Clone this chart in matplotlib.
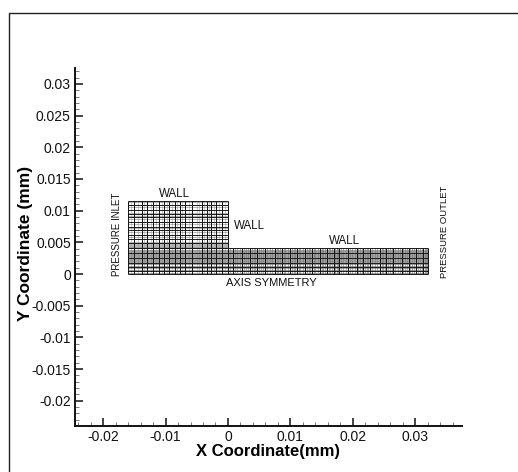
import matplotlib
matplotlib.use("Agg")
import matplotlib.pyplot as plt
from matplotlib.lines import Line2D

plt.rcParams['font.family'] = ['Liberation Sans', 'DejaVu Sans']

x_ticks = [-0.02, -0.01, 0, 0.01, 0.02, 0.03]
x_tick_labels = ['-0.02', '-0.01', '0', '0.01', '0.02', '0.03']
y_ticks = [0.03, 0.025, 0.02, 0.015, 0.01, 0.005, 0, -0.005, -0.01, -0.015, -0.02]
y_tick_labels = ['0.03', '0.025', '0.02', '0.015', '0.01', '0.005', '0', '-0.005', '-0.01', '-0.015', '-0.02']

inlet_x_strong = [-0.01596, -0.01505, -0.01382, -0.01292, -0.01196, -0.0110, -0.0102, -0.0094, -0.00849,
                  -0.00769, -0.00689, -0.00576, -0.00416, -0.00336, -0.00264, -0.00192, -0.00096, 0.0]
inlet_x_faint = [-0.0155, -0.0144, -0.0134, -0.0124, -0.0115, -0.0106, -0.0098, -0.0089, -0.0081, -0.0073,
                 -0.0062, -0.0050, -0.0046, -0.0038, -0.0030, -0.0022, -0.0014, -0.0005]
channel_x_strong = [0.0, 0.0008, 0.0022, 0.0035, 0.0047, 0.0059, 0.0075, 0.0086, 0.0099, 0.011, 0.0123, 0.0134,
                    0.0147, 0.0158, 0.017, 0.0178, 0.0192, 0.0206, 0.0217, 0.0227, 0.0243, 0.0253, 0.0265,
                    0.0278, 0.029, 0.0301, 0.0313, 0.0321]
channel_x_faint = [0.0004, 0.0011, 0.0015, 0.0019, 0.0026, 0.0029, 0.0032, 0.0038, 0.0041, 0.0044, 0.0050, 0.0053,
                   0.0056, 0.0063, 0.0067, 0.0071, 0.0078, 0.0080, 0.0083, 0.0089, 0.0092, 0.0096, 0.0102, 0.0105,
                   0.0108, 0.0113, 0.0116, 0.0120, 0.0126, 0.0129, 0.0132, 0.0137, 0.0140, 0.0144, 0.0150, 0.0152,
                   0.0155, 0.0161, 0.0164, 0.0167, 0.0172, 0.0174, 0.0176, 0.0181, 0.0185, 0.0189, 0.0195, 0.0199,
                   0.0203, 0.0209, 0.0211, 0.0214, 0.0219, 0.0222, 0.0225, 0.0231, 0.0235, 0.0239, 0.0246, 0.0248,
                   0.0251, 0.0256, 0.0259, 0.0262, 0.0268, 0.0272, 0.0275, 0.0281, 0.0284, 0.0287, 0.0292, 0.0295,
                   0.0298, 0.0304, 0.0307, 0.0310, 0.0315, 0.0317, 0.0319]
inlet_y_strong = [0.01157, 0.0109, 0.0101, 0.00942, 0.00895, 0.00825, 0.00747, 0.00695, 0.00616, 0.00547, 0.00484, 0.00405]
inlet_y_faint = [0.0113, 0.0105, 0.0097, 0.0092, 0.0086, 0.0079, 0.0072, 0.0066, 0.0058, 0.0051,
                 0.0047, 0.0045, 0.0044, 0.0043, 0.0042]
channel_y_strong = [0.00405, 0.00327, 0.00248, 0.00169, 0.00106, 0.00052, 0.0]
channel_y_faint = [0.00385, 0.00365, 0.00345, 0.00315, 0.00305, 0.00285, 0.00265, 0.00235, 0.00225, 0.00205, 0.00185,
                   0.0015, 0.0013, 0.0009, 0.0007, 0.0004, 0.0002]
y_channel_top = 0.00405
y_inlet_top = 0.01157
x_inlet_left = -0.01596
x_outlet = 0.0321

W, H = 518, 472
fig = plt.figure(figsize=(W / 100, H / 100), dpi=100)
fig.add_artist(Line2D([8.5 / W, 8.5 / W, 1], [0, 1 - 12.5 / H, 1 - 12.5 / H], transform=fig.transFigure,
                      color='#222222', lw=1.0))
L, R, T, B = 75, 461.5, 68, 425.5
ax = fig.add_axes([L / W, 1 - B / H, (R - L) / W, (B - T) / H])
ax.set_xlim(-0.0245, 0.0374)
ax.set_ylim(-0.0239, 0.0325)

ax.vlines(inlet_x_faint, 0, y_inlet_top, color='#b5b5b5', lw=0.5)
ax.vlines(channel_x_faint, 0, y_channel_top, color='#888888', lw=0.5)
ax.hlines(inlet_y_faint, x_inlet_left, 0, color='#999999', lw=0.5)
ax.hlines(channel_y_faint, x_inlet_left, x_outlet, color='#777777', lw=0.5)
ax.vlines(inlet_x_strong, 0, y_inlet_top, color='#111111', lw=0.7)
ax.vlines(channel_x_strong, 0, y_channel_top, color='#111111', lw=0.7)
ax.hlines(inlet_y_strong, x_inlet_left, 0, color='#1a1a1a', lw=0.7)
ax.hlines(channel_y_strong, x_inlet_left, x_outlet, color='#1a1a1a', lw=0.7)

for s in ['top', 'right']:
    ax.spines[s].set_visible(False)
for s in ['left', 'bottom']:
    ax.spines[s].set_linewidth(1.4)
    ax.spines[s].set_color('#111111')

ax.set_xticks(x_ticks, x_tick_labels)
ax.set_yticks(y_ticks, y_tick_labels)
ax.set_xticks([i / 1000 for i in range(-24, 38, 2) if i % 10 != 0], minor=True)
ax.set_yticks([i / 1000 for i in range(-23, 33) if i % 5 != 0], minor=True)
ax.tick_params(which='major', direction='in', length=6, width=1.1, labelsize=10, pad=3, colors='#111111')
ax.tick_params(which='minor', direction='in', length=3, width=0.7, color='#777777')

ax.set_xlabel('X Coordinate(mm)', fontsize=12, fontweight='bold', labelpad=0.5)
ax.set_ylabel('Y Coordinate (mm)', fontsize=12.5, fontweight='bold')
ax.yaxis.set_label_coords((33 - L) / (R - L), (B - 243) / (B - T))

ann = dict(color='#111111', ha='center', va='center')
ax.text(-0.0085, 0.0127, 'WALL', fontsize=8.3, **ann)
ax.text(0.0035, 0.0075, 'WALL', fontsize=8.3, **ann)
ax.text(0.0187, 0.0052, 'WALL', fontsize=8.3, **ann)
ax.text(0.0069, -0.00135, 'AXIS SYMMETRY', fontsize=8, **ann)
ax.text(-0.0178, 0.0063, 'PRESSURE INLET', fontsize=7, rotation=90, **ann)
ax.text(0.0346, 0.0066, 'PRESSURE OUTLET', fontsize=6.8, rotation=90, **ann)

fig.savefig('out.png', dpi=100)
